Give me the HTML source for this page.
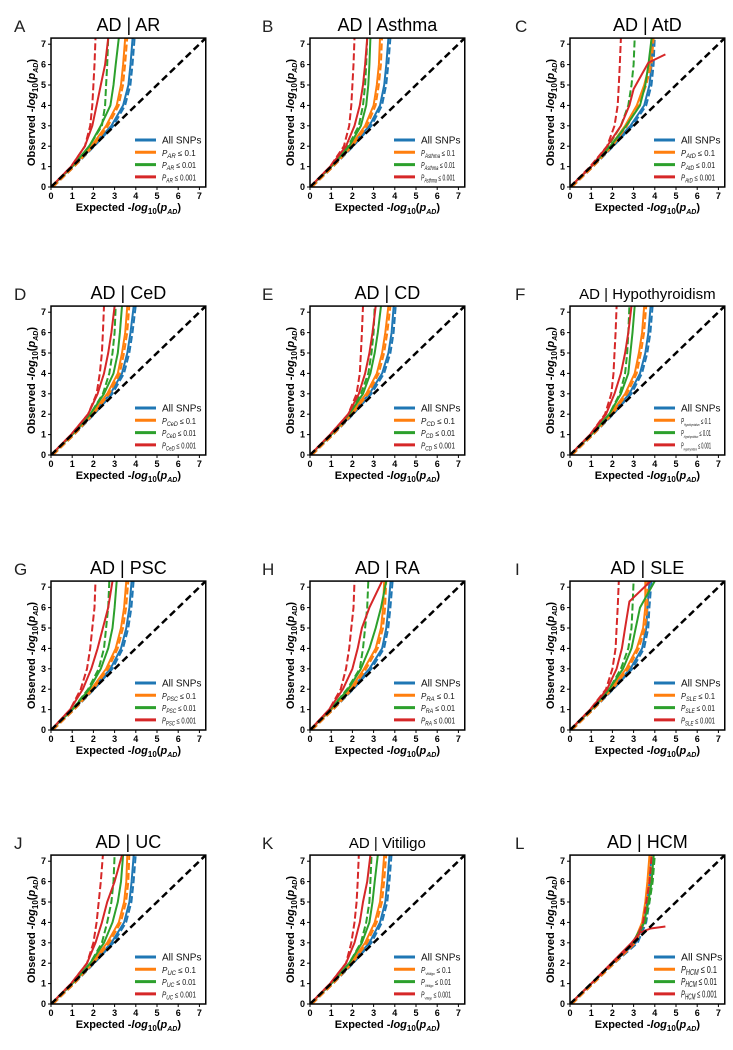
<!DOCTYPE html>
<html><head><meta charset="utf-8"><style>
html,body{margin:0;padding:0;background:#fff}
svg{display:block;font-family:"Liberation Sans",sans-serif}
</style></head><body>
<svg id="fig" width="733" height="1050" viewBox="0 0 733 1050" xmlns="http://www.w3.org/2000/svg"></svg>
<script>
const OBS=[0,1,2,3,4,5,6,7.3];
const letters=["A","B","C","D","E","F","G","H","I","J","K","L"];
const traits=["AR","Asthma","AtD","CeD","CD","Hypothyroidism","PSC","RA","SLE","UC","Vitiligo","HCM"];
const thresholds=["0.1","0.01","0.001"];
const blueExp=[[0,1,1.95,2.85,3.4,3.65,3.75,3.85],[0,1,1.95,2.8,3.3,3.5,3.6,3.7],[0,1,1.95,2.85,3.5,3.75,3.85,3.9],[0,1,1.95,2.8,3.35,3.6,3.75,3.9],[0,1,1.95,2.8,3.4,3.7,3.85,3.95],[0,1,1.95,2.8,3.3,3.55,3.7,3.8],[0,1,1.95,2.8,3.3,3.55,3.7,3.8],[0,1,1.95,2.8,3.4,3.6,3.7,3.8],[0,1,1.95,2.85,3.4,3.6,3.65,3.75],[0,1,1.95,2.85,3.45,3.7,3.8,3.9],[0,1,1.95,2.8,3.3,3.55,3.65,3.75],[0,1,2,3.1,3.5,3.65,3.75,3.85]];
const orangeExp=[[0,1,1.9,2.6,3.1,3.3,3.4,3.5],[0,1,1.9,2.6,3.0,3.15,3.25,3.3],[0,1,1.9,2.6,3.15,3.5,3.75,3.85],[0,1,1.9,2.65,3.15,3.35,3.5,3.6],[0,1,1.9,2.65,3.15,3.4,3.55,3.7],[0,1,1.9,2.6,3.05,3.25,3.4,3.5],[0,1,1.9,2.6,3.05,3.3,3.45,3.55],[0,1,1.9,2.55,3.1,3.35,3.45,3.5],[0,1,1.9,2.65,3.15,3.45,3.55,3.55],[0,1,1.9,2.65,3.2,3.45,3.55,3.6],[0,1,1.9,2.6,3.05,3.3,3.4,3.5],[0,1,2,3.0,3.4,3.55,3.65,3.75]];
const greenExp=[[0,1,1.8,2.35,2.8,2.95,3.05,3.2],[0,1,1.85,2.4,2.65,2.75,2.8,2.85],[0,1,1.9,2.65,3.3,3.55,3.7,3.85],[0,1,1.85,2.5,2.95,3.15,3.25,3.35],[0,1,1.85,2.5,2.85,3.05,3.2,3.35],[0,1,1.85,2.4,2.75,2.85,2.95,3.05],[0,1,1.8,2.35,2.7,2.9,3.0,3.1],[0,0.95,1.8,2.4,2.8,3.1,3.35,3.6],[0,1,1.85,2.5,2.9,3.1,3.3,4.0],[0,1,1.85,2.5,2.9,3.15,3.3,3.4],[0,1,1.85,2.45,2.8,2.95,3.05,3.2],[0,1,2,2.95,3.5,3.7,3.85,3.95]];
const greenDashExp=[[0,1,1.8,2.4,2.55,2.6,2.65,2.7],[0,1,1.8,2.3,2.5,2.6,2.65,2.7],[0,1,1.8,2.4,2.75,2.9,3.0,3.05],[0,1,1.85,2.45,2.75,2.9,3.0,3.05],[0,1,1.85,2.4,2.75,2.9,3.0,3.05],[0,1,1.85,2.35,2.6,2.7,2.75,2.8],[0,1,1.75,2.25,2.5,2.6,2.7,2.75],[0,0.95,1.75,2.35,2.5,2.6,2.7,2.75],[0,1,1.85,2.4,2.75,2.9,2.95,3.0],[0,1,1.85,2.4,2.65,2.85,2.95,3.0],[0,1,1.85,2.4,2.65,2.8,2.85,2.9],[0,1,2,3.0,3.55,3.75,3.9,4.0]];
const redExp=[[0,0.95,1.6,1.95,2.15,2.35,2.55,2.7],[0,0.95,1.7,2.1,2.35,2.5,2.6,2.7],[0,1,1.75,2.4,2.8,3.0,3.7,4.5],[0,0.95,1.75,2.2,2.5,2.7,2.85,3.0],[0,0.95,1.8,2.3,2.6,2.8,2.95,3.1],[0,0.95,1.7,2.1,2.4,2.6,2.75,2.9],[0,0.9,1.5,1.9,2.2,2.45,2.7,2.9],[0,0.9,1.55,2.0,2.25,2.45,2.8,3.4],[0,0.95,1.75,2.2,2.45,2.6,2.8,3.8],[0,0.95,1.7,2.1,2.4,2.65,3.0,3.35],[0,0.95,1.7,2.1,2.35,2.5,2.7,2.85],[0,1,1.95,2.9,3.3,3.8,4.5]];
const redObs=[OBS,OBS,[0,1,2,3,4,4.8,6.1,6.5],OBS,OBS,OBS,OBS,OBS,[0,1,2,3,4,5,6.3,7.3],OBS,OBS,[0,1,2,3,3.5,3.7,3.8]];
const redDashExp=[[0,0.95,1.6,1.85,1.95,2.0,2.05,2.1],[0,0.95,1.6,1.85,1.95,2.0,2.05,2.1],[0,0.95,1.75,2.1,2.25,2.3,2.35,2.4],[0,0.95,1.75,2.15,2.3,2.4,2.45,2.5],[0,0.95,1.8,2.2,2.35,2.4,2.45,2.5],[0,0.95,1.65,1.95,2.05,2.1,2.15,2.2],[0,0.9,1.4,1.7,1.85,1.95,2.05,2.1],[0,0.9,1.45,1.7,1.85,1.95,2.05,2.1],[0,0.95,1.7,2.0,2.15,2.2,2.25,2.3],[0,0.95,1.7,2.0,2.15,2.25,2.35,2.45],[0,0.95,1.7,1.95,2.1,2.2,2.25,2.3],[0,1,2,3.05,3.45,3.6,3.75,3.85]];
const axisTicks=[0,1,2,3,4,5,6,7];

const COLX=[51,310,570], ROWY=[187,455,730,1004], LETX=[14,262,515];
const SX=21.2, SY=20.4, MAXV=7.3;
const C={blue:"#1f77b4",orange:"#ff7f0e",green:"#2ca02c",red:"#d62728"};
const NS="http://www.w3.org/2000/svg";
const svg=document.getElementById("fig");
function mk(tag,attrs,parent,text){const e=document.createElementNS(NS,tag);for(const k in attrs)e.setAttribute(k,attrs[k]);if(text!==undefined)e.textContent=text;(parent||svg).appendChild(e);return e;}

for(let i=0;i<12;i++){
  const x0=COLX[i%3], y0=ROWY[Math.floor(i/3)];
  const X=v=>x0+v*SX, Y=v=>y0-v*SY;
  const g=mk("g",{});
  
  
  const lt=mk("text",{x:LETX[i%3],y:y0-155,"font-size":17,fill:"#222"},g,letters[i]);
  
  
  const long=traits[i].length>6;
  const tt=mk("text",{x:x0+MAXV*SX/2,y:y0-156,"font-size":long?15:18,"text-anchor":"middle",fill:"#000"},g,"AD | "+traits[i]);
  
  
  const clipId="clip"+i;
  const cp=mk("clipPath",{id:clipId},g);
  mk("rect",{x:x0,y:Y(MAXV),width:MAXV*SX,height:MAXV*SY},cp);
  const plot=mk("g",{"clip-path":"url(#"+clipId+")"},g);
  
  
  const line=(ex,ob,col,dash,name,dx)=>{
    const pts=ex.map((e,k)=>(X(e)+(dx||0)).toFixed(1)+","+Y(ob[k]).toFixed(1)).join(" ");
    const p=mk("polyline",{points:pts,fill:"none",stroke:col,"stroke-width":2,"stroke-linejoin":"round"},plot);
    if(dash)p.setAttribute("stroke-dasharray","7,3");
    
    
  };
  line(blueExp[i],OBS,C.blue,false,'all-snps-line');
  line(blueExp[i],OBS,C.blue,true,'all-snps-expected-line',2);
  line(orangeExp[i],OBS,C.orange,false,'p01-line');
  line(orangeExp[i],OBS,C.orange,true,'p01-expected-line',2);
  line(greenExp[i],OBS,C.green,false,'p001-line');
  line(greenDashExp[i],OBS,C.green,true,'p001-expected-line');
  line(redExp[i],redObs[i],C.red,false,'p0001-line');
  line(redDashExp[i],OBS,C.red,true,'p0001-expected-line');
  const d=mk("line",{x1:X(0),y1:Y(0),x2:X(MAXV),y2:Y(MAXV),stroke:"#000","stroke-width":2.5,"stroke-dasharray":"7,4"},plot);
  
  
  const fr=mk("rect",{x:x0,y:Y(MAXV),width:MAXV*SX,height:MAXV*SY,fill:"none",stroke:"#000","stroke-width":1.5},g);
  
  
  axisTicks.forEach(t=>{
    mk("line",{x1:X(t),y1:y0,x2:X(t),y2:y0+3,stroke:"#000"},g);
    mk("line",{x1:x0,y1:Y(t),x2:x0-3,y2:Y(t),stroke:"#000"},g);
    const a=mk("text",{x:X(t),y:y0+12,"font-size":9,"font-weight":"bold","text-anchor":"middle"},g,t);
    
    
    const b=mk("text",{x:x0-5,y:Y(t)+3,"font-size":9,"font-weight":"bold","text-anchor":"end"},g,t);
    
    
  });
  const xl=mk("text",{x:x0+MAXV*SX/2,y:y0+24,"font-size":11,"font-weight":"bold","text-anchor":"middle"},g);
  
  
  xl.innerHTML='Expected -<tspan font-style="italic">log</tspan><tspan font-size="8" dy="3">10</tspan><tspan dy="-3">(</tspan><tspan font-style="italic">p</tspan><tspan font-size="7" dy="3" font-style="italic">AD</tspan><tspan dy="-3">)</tspan>';
  const yl=mk("text",{x:0,y:0,"font-size":11,"font-weight":"bold","text-anchor":"middle",transform:`translate(${x0-16},${y0-MAXV*SY/2}) rotate(-90)`},g);
  
  
  yl.innerHTML='Observed -<tspan font-style="italic">log</tspan><tspan font-size="8" dy="3">10</tspan><tspan dy="-3">(</tspan><tspan font-style="italic">p</tspan><tspan font-size="7" dy="3" font-style="italic">AD</tspan><tspan dy="-3">)</tspan>';
  const big=i===11;
  const lg=mk("g",{},g);
  
  
  const cols=[C.blue,C.orange,C.green,C.red];
  for(let k=0;k<4;k++){
    const ly=y0-47+k*12.3;
    mk("line",{x1:x0+84,y1:ly,x2:x0+105,y2:ly,stroke:cols[k],"stroke-width":3},lg);
    const fs=big?10.5:(k===0?10:8);
    const t=mk("text",{x:x0+111,y:ly+3.5,"font-size":fs,fill:"#111"},lg);
    
    
    if(k===0)t.textContent="All SNPs";
    else{
      t.innerHTML='<tspan font-style="italic">P</tspan><tspan font-style="italic" font-size="'+(big?8:(long?4:6))+'" dy="2">'+traits[i]+'</tspan><tspan dy="-2"> ≤ '+thresholds[k-1]+'</tspan>';
      const w=t.getComputedTextLength?t.getComputedTextLength():0;
      const maxW=big?36:(long?30:34);
      if(w>maxW){t.setAttribute("textLength",maxW);t.setAttribute("lengthAdjust","spacingAndGlyphs");}
    }
  }
}
</script>
</body></html>
